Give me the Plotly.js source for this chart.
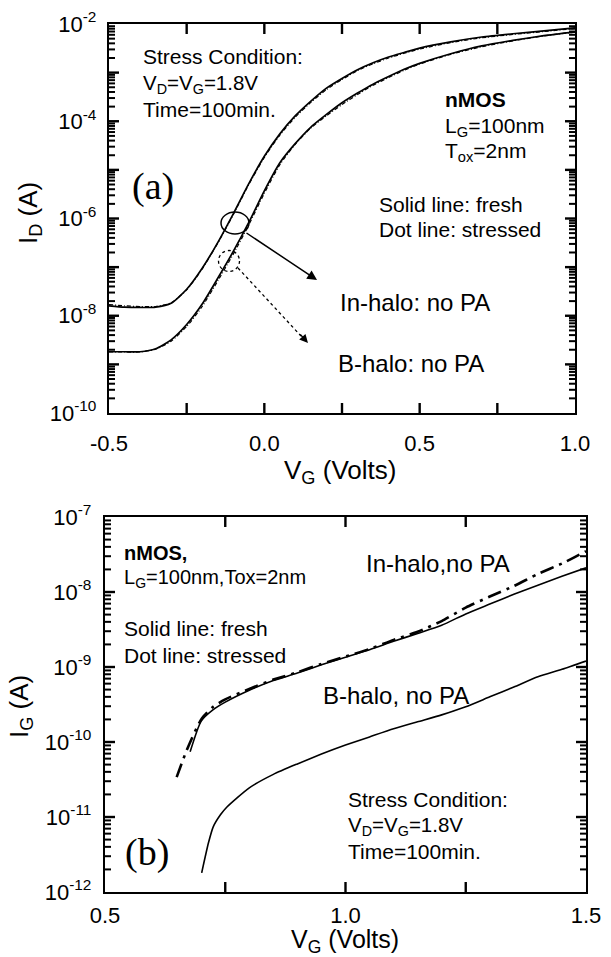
<!DOCTYPE html>
<html>
<head>
<meta charset="utf-8">
<script src="https://cdn.plot.ly/plotly-3.0.1.min.js"></script>
<style>html,body{margin:0;padding:0;background:#fff;}#chart{width:611px;height:957px;}</style>
</head>
<body>
<div id="chart"></div>
<script>
// ---------- Data: panel (a) I_D vs V_G ----------
const vgA = [-0.50,-0.45,-0.40,-0.35,-0.30,-0.25,-0.20,-0.15,-0.10,-0.05,0.00,0.05,0.10,0.15,0.20,0.25,0.30,0.35,0.40,0.45,0.50,0.60,0.70,0.80,0.90,1.00];
const idInHaloFresh = [1.6e-8,1.5e-8,1.48e-8,1.5e-8,1.8e-8,3.5e-8,9.5e-8,3.2e-7,1.25e-6,5.2e-6,1.9e-5,5.5e-5,1.3e-4,2.6e-4,4.8e-4,7.6e-4,1.15e-3,1.6e-3,2.1e-3,2.6e-3,3.2e-3,4.3e-3,5.4e-3,6.3e-3,7.2e-3,8.3e-3];
const idInHaloStressed = [1.7e-8,1.6e-8,1.55e-8,1.55e-8,1.85e-8,3.4e-8,9.2e-8,3.1e-7,1.2e-6,5.0e-6,1.8e-5,5.2e-5,1.22e-4,2.45e-4,4.5e-4,7.2e-4,1.1e-3,1.52e-3,2.0e-3,2.5e-3,3.05e-3,4.15e-3,5.2e-3,6.1e-3,7.0e-3,8.1e-3];
const idBHaloFresh = [1.82e-9,1.82e-9,1.82e-9,2.1e-9,3.2e-9,6.6e-9,1.74e-8,5.9e-8,2.1e-7,8.3e-7,3.7e-6,1.4e-5,3.5e-5,7.6e-5,1.38e-4,2.4e-4,3.8e-4,5.8e-4,8.3e-4,1.17e-3,1.55e-3,2.45e-3,3.55e-3,4.6e-3,5.75e-3,6.9e-3];
const idBHaloStressed = [1.8e-9,1.8e-9,1.8e-9,2.05e-9,3.0e-9,6.0e-9,1.55e-8,5.2e-8,1.85e-7,7.4e-7,3.3e-6,1.28e-5,3.4e-5,7.3e-5,1.3e-4,2.2e-4,3.55e-4,5.5e-4,7.9e-4,1.12e-3,1.5e-3,2.38e-3,3.4e-3,4.5e-3,5.7e-3,6.8e-3];

// ---------- Data: panel (b) I_G vs V_G ----------
const vgBInFresh = [0.677,0.70,0.725,0.75,0.80,0.85,0.90,0.95,1.00,1.05,1.10,1.15,1.20,1.25,1.30,1.35,1.40,1.45,1.50];
const igInHaloFresh = [7.4e-11,1.9e-10,2.7e-10,3.4e-10,4.9e-10,6.6e-10,8.3e-10,1.07e-9,1.35e-9,1.7e-9,2.2e-9,2.8e-9,3.6e-9,5.1e-9,6.9e-9,9.3e-9,1.23e-8,1.62e-8,2.1e-8];
const vgBInStressed = [0.649,0.67,0.70,0.725,0.75,0.80,0.85,0.90,0.95,1.00,1.05,1.10,1.15,1.20,1.25,1.30,1.35,1.40,1.45,1.50];
const igInHaloStressed = [3.4e-11,7.8e-11,2.0e-10,2.95e-10,3.7e-10,5.1e-10,6.8e-10,8.5e-10,1.1e-9,1.38e-9,1.74e-9,2.3e-9,2.95e-9,4.1e-9,6.2e-9,8.7e-9,1.2e-8,1.74e-8,2.4e-8,3.5e-8];
const vgBBFresh = [0.701,0.715,0.725,0.74,0.753,0.80,0.85,0.90,0.95,1.00,1.05,1.10,1.15,1.20,1.25,1.30,1.35,1.40,1.45,1.50];
const igBHaloFresh = [1.8e-12,4.5e-12,7.4e-12,1.07e-11,1.35e-11,2.45e-11,3.7e-11,5.1e-11,6.9e-11,9.1e-11,1.17e-10,1.5e-10,1.86e-10,2.3e-10,2.95e-10,4.0e-10,5.4e-10,7.4e-10,9.3e-10,1.2e-9];

// ---------- Tick labels / tick marks ----------
const xLabelsA = [-0.5,0,0.5,1.0];
const xTextA = ['-0.5','0.0','0.5','1.0'];
const xTickMarksA = [-0.25,0,0.25,0.5,0.75];
const yLabelsA = [1e-2,1e-4,1e-6,1e-8,1e-10];
const yTextA = ['10<sup>-2</sup>','10<sup>-4</sup>','10<sup>-6</sup>','10<sup>-8</sup>','10<sup>-10</sup>'];
const yMajorA = [1e-3,1e-4,1e-5,1e-6,1e-7,1e-8,1e-9];
const xLabelsB = [0.5,1.0,1.5];
const xTextB = ['0.5','1.0','1.5'];
const xTickMarksB = [0.75,1.0,1.25];
const yLabelsB = [1e-7,1e-8,1e-9,1e-10,1e-11,1e-12];
const yTextB = ['10<sup>-7</sup>','10<sup>-8</sup>','10<sup>-9</sup>','10<sup>-10</sup>','10<sup>-11</sup>','10<sup>-12</sup>'];
const yMajorB = [1e-8,1e-9,1e-10,1e-11];

// ---------- Layout geometry (pixels) ----------
const W = 611, H = 957;
const px = x => x / W;
const py = y => 1 - y / H;
const SANS = 'Liberation Sans, Arial, Helvetica, sans-serif';
const SERIF = 'Liberation Serif, Times New Roman, serif';
const boxA = {l: 109, r: 575, t: 24, b: 413, x0: -0.5, x1: 1.0, y0: -10, y1: -2, xa: 'x', ya: 'y'};
const boxB = {l: 105, r: 586, t: 517, b: 892, x0: 0.5, x1: 1.5, y0: -12, y1: -7, xa: 'x2', ya: 'y2'};

function minorLog(lo, hi) {
  const v = [];
  for (let e = lo; e < hi; e++) for (let k = 2; k <= 9; k++) v.push(k * Math.pow(10, e));
  return v;
}

const solid = {color: '#000', width: 1.7, shape: 'spline', smoothing: 0.6};
const dotted = {color: '#000', width: 1.2, dash: '4px,2px,1px,2px', shape: 'spline', smoothing: 0.6};
const traces = [
  {x: vgA, y: idInHaloFresh, xaxis: 'x', yaxis: 'y', mode: 'lines', line: solid, name: 'In-halo fresh'},
  {x: vgA, y: idInHaloStressed, xaxis: 'x', yaxis: 'y', mode: 'lines', line: dotted, name: 'In-halo stressed'},
  {x: vgA, y: idBHaloFresh, xaxis: 'x', yaxis: 'y', mode: 'lines', line: solid, name: 'B-halo fresh'},
  {x: vgA, y: idBHaloStressed, xaxis: 'x', yaxis: 'y', mode: 'lines', line: dotted, name: 'B-halo stressed'},
  {x: vgBInFresh, y: igInHaloFresh, xaxis: 'x2', yaxis: 'y2', mode: 'lines', line: {color: '#000', width: 1.6, shape: 'spline', smoothing: 0.6}, name: 'In-halo fresh IG'},
  {x: vgBInStressed, y: igInHaloStressed, xaxis: 'x2', yaxis: 'y2', mode: 'lines', line: {color: '#000', width: 2.6, dash: '14px,6px,3px,6px', shape: 'spline', smoothing: 0.6}, name: 'In-halo stressed IG'},
  {x: vgBBFresh, y: igBHaloFresh, xaxis: 'x2', yaxis: 'y2', mode: 'lines', line: {color: '#000', width: 1.6, shape: 'spline', smoothing: 0.6}, name: 'B-halo fresh IG'}
];

// ---- inside tick marks on all four sides, drawn as line segments on each subplot ----
function tickTrace(box, yVals, xVals, len, w) {
  const dx = (box.x1 - box.x0) / (box.r - box.l);
  const dy = (box.y1 - box.y0) / (box.b - box.t);
  const X = [], Y = [];
  yVals.forEach(v => {
    X.push(box.x0, box.x0 + len * dx, null, box.x1 - len * dx, box.x1, null);
    Y.push(v, v, null, v, v, null);
  });
  xVals.forEach(v => {
    X.push(v, v, null, v, v, null);
    Y.push(Math.pow(10, box.y0), Math.pow(10, box.y0 + len * dy), null,
           Math.pow(10, box.y1 - len * dy), Math.pow(10, box.y1), null);
  });
  traces.push({x: X, y: Y, xaxis: box.xa, yaxis: box.ya, mode: 'lines', connectgaps: false,
    line: {color: '#000', width: w}, hoverinfo: 'skip', showlegend: false});
}
tickTrace(boxA, yMajorA, xTickMarksA, 10, 2.4);
tickTrace(boxA, minorLog(-10, -2), [], 6, 2);
tickTrace(boxB, yMajorB, xTickMarksB, 10, 2.4);
tickTrace(boxB, minorLog(-12, -7), [], 6, 2);

const tickFont = {family: SANS, size: 22, color: '#000'};
const axBase = {
  showline: true, linecolor: '#000', linewidth: 2.2, mirror: true,
  ticks: '', showgrid: false, zeroline: false, automargin: false, tickfont: tickFont
};

const layout = {
  width: W, height: H,
  margin: {l: 0, r: 0, t: 0, b: 0},
  paper_bgcolor: '#fff', plot_bgcolor: '#fff',
  showlegend: false,
  font: {family: SANS, color: '#000'},
  xaxis: Object.assign({}, axBase, {
    domain: [px(boxA.l), px(boxA.r)], anchor: 'y', range: [boxA.x0, boxA.x1],
    tickmode: 'array', tickvals: xLabelsA, ticktext: xTextA, ticklabelstandoff: 9
  }),
  yaxis: Object.assign({}, axBase, {
    domain: [py(boxA.b), py(boxA.t)], anchor: 'x', type: 'log', range: [boxA.y0, boxA.y1],
    tickmode: 'array', tickvals: yLabelsA, ticktext: yTextA, ticklabelstandoff: 6
  }),
  xaxis2: Object.assign({}, axBase, {
    domain: [px(boxB.l), px(boxB.r)], anchor: 'y2', range: [boxB.x0, boxB.x1],
    tickmode: 'array', tickvals: xLabelsB, ticktext: xTextB, ticklabelstandoff: 2
  }),
  yaxis2: Object.assign({}, axBase, {
    domain: [py(boxB.b), py(boxB.t)], anchor: 'x2', type: 'log', range: [boxB.y0, boxB.y1],
    tickmode: 'array', tickvals: yLabelsB, ticktext: yTextB, ticklabelstandoff: 7
  }),
  shapes: [
    {type: 'circle', xref: 'paper', yref: 'paper', x0: px(221), x1: px(249), y0: py(234), y1: py(212),
     line: {color: '#000', width: 1.5}},
    {type: 'circle', xref: 'paper', yref: 'paper', x0: px(218.5), x1: px(239.5), y0: py(271.5), y1: py(250.5),
     line: {color: '#000', width: 1.3, dash: 'dot'}},
    {type: 'line', xref: 'paper', yref: 'paper', x0: px(238), y0: py(268), x1: px(301), y1: py(336),
     line: {color: '#000', width: 1.3, dash: 'dot'}}
  ],
  annotations: []
};

function txt(t, x, y, size, opts) {
  return Object.assign({text: t, xref: 'paper', yref: 'paper', x: px(x), y: py(y),
    xanchor: 'left', yanchor: 'middle', showarrow: false,
    font: {family: SANS, size: size, color: '#000'}}, opts || {});
}

layout.annotations.push(
  txt('Stress Condition:', 141, 56, 21),
  txt('V<sub>D</sub>=V<sub>G</sub>=1.8V', 141, 84, 20.5),
  txt('Time=100min.', 141, 109, 21),
  txt('(a)', 130, 186, 38, {font: {family: SERIF, size: 38, color: '#000'}}),
  txt('<b>nMOS</b>', 443, 100, 21),
  txt('L<sub>G</sub>=100nm', 443, 127, 21),
  txt('T<sub>ox</sub>=2nm', 443, 152, 21),
  txt('Solid line: fresh', 377, 205, 21),
  txt('Dot line: stressed', 377, 230, 21),
  txt('In-halo: no PA', 338, 302, 24),
  txt('B-halo: no PA', 336, 363, 24),
  txt('<b>nMOS,</b>', 122, 553, 20),
  txt('L<sub>G</sub>=100nm,Tox=2nm', 122, 578, 20),
  txt('Solid line: fresh', 122, 628, 21),
  txt('Dot line: stressed', 122, 655, 21),
  txt('In-halo,no PA', 364, 563, 24),
  txt('B-halo, no PA', 321, 695, 24),
  txt('Stress Condition:', 346, 799, 21),
  txt('V<sub>D</sub>=V<sub>G</sub>=1.8V', 346, 826, 20.5),
  txt('Time=100min.', 346, 851, 21),
  txt('(b)', 123, 852, 38, {font: {family: SERIF, size: 38, color: '#000'}}),
  txt('V<sub>G</sub> (Volts)', 340, 471, 26, {xanchor: 'center'}),
  txt('V<sub>G</sub> (Volts)', 345, 941, 25, {xanchor: 'center'}),
  txt('I<sub>D</sub> (A)', 30, 213, 26, {xanchor: 'center', textangle: -90}),
  txt('I<sub>G</sub> (A)', 20, 707, 26, {xanchor: 'center', textangle: -90}),
  {text: '', xref: 'paper', yref: 'paper', axref: 'pixel', ayref: 'pixel', x: px(317), y: py(280), ax: -72, ay: -48,
   showarrow: true, arrowhead: 2, arrowsize: 1.3, arrowwidth: 1.5, arrowcolor: '#000', standoff: 0, startstandoff: 0},
  {text: '', xref: 'paper', yref: 'paper', axref: 'pixel', ayref: 'pixel', x: px(308), y: py(343), ax: -9, ay: -10,
   showarrow: true, arrowhead: 2, arrowsize: 1.3, arrowwidth: 1.3, arrowcolor: '#000', standoff: 0, startstandoff: 0}
);

Plotly.newPlot('chart', traces, layout, {staticPlot: true, displayModeBar: false});
</script>
</body>
</html>
